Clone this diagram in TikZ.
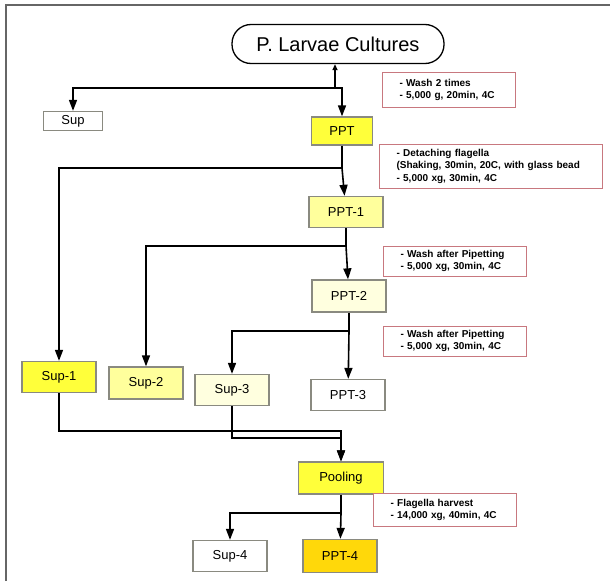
\documentclass[tikz,border=0pt]{standalone}
\usepackage{fontspec}
\setmainfont{Liberation Sans}
\usetikzlibrary{arrows.meta}
\definecolor{yellowA}{HTML}{FFFF3A}
\definecolor{yellowB}{HTML}{FFFF9C}
\definecolor{yellowC}{HTML}{FFFFDF}
\definecolor{goldD}{HTML}{FFD80A}
\definecolor{noteline}{HTML}{C8787F}
\definecolor{boxline}{HTML}{8A8A80}

\begin{document}
\begin{tikzpicture}[x=1pt,y=-1pt,
box/.style={draw=boxline, line width=1.3pt, minimum width=74pt, minimum height=31pt, inner sep=0pt, font=\fontsize{13}{15}\selectfont},
note/.style={draw=noteline, line width=1pt, fill=white, align=left, inner xsep=17pt, inner ysep=0pt, font=\fontsize{10}{12.5}\selectfont\bfseries},
flow/.style={line width=1.6pt, -{Triangle[length=11pt,width=8pt]}},
link/.style={line width=1.6pt}
]
\useasboundingbox (0,0) rectangle (610,581);
% frame
\draw[gray!80!black, line width=2pt] (6,581) -- (6,5) -- (610,5);

\node[draw=black, line width=1.3pt, rounded corners=19pt, minimum width=212pt, minimum height=39pt, font=\fontsize{20}{24}\selectfont] (culture) at (338,44) {P. Larvae Cultures};

\node[box, minimum width=59pt, minimum height=19pt] (sup) at (73,121) {Sup};
\node[box, fill=yellowA, minimum width=61pt, minimum height=28pt] (ppt) at (342,131) {PPT};
\node[box, fill=yellowB] (ppt1) at (346,212) {PPT-1};
\node[box, fill=yellowC, minimum height=32pt] (ppt2) at (349,296) {PPT-2};
\node[box, fill=white] (ppt3) at (348,395) {PPT-3};
\node[box, fill=yellowA] (sup1) at (59,377) {Sup-1};
\node[box, fill=yellowB, minimum height=32pt] (sup2) at (146,383) {Sup-2};
\node[box, fill=yellowC] (sup3) at (232,390) {Sup-3};
\node[box, fill=yellowA, minimum width=85pt, minimum height=32pt] (pool) at (341,478) {Pooling};
\node[box, fill=white] (sup4) at (230,556) {Sup-4};
\node[box, fill=goldD, minimum height=33pt] (ppt4) at (340,556) {PPT-4};

% conditions
\node[note, minimum width=133pt, minimum height=35pt, text width=99pt] (cond1) at (449,90) {- Wash 2 times\\- 5,000 g, 20min, 4C};
\node[note, minimum width=223pt, minimum height=44pt, text width=189pt] (cond2) at (491,166) {- Detaching flagella\\(Shaking, 30min, 20C, with glass bead\\- 5,000 xg, 30min, 4C};
\node[note, minimum width=143pt, minimum height=30pt, text width=109pt] (cond3) at (455,261) {- Wash after Pipetting\\- 5,000 xg, 30min, 4C};
\node[note, minimum width=143pt, minimum height=30pt, text width=109pt] (cond4) at (455,341) {- Wash after Pipetting\\- 5,000 xg, 30min, 4C};
\node[note, minimum width=143pt, minimum height=33pt, text width=109pt] (cond5) at (445,510) {- Flagella harvest\\- 14,000 xg, 40min, 4C};

% branch points
\coordinate (b0) at (335,88);
\coordinate (b1) at (342,168);
\coordinate (b2) at (346,246);
\coordinate (b3) at (349,331);
\coordinate (m1) at (341,431);
\coordinate (m2) at (341,438);
\coordinate (b4) at (341,513);

\draw[link, {Triangle[length=6pt,width=5pt]}-] (culture.south -| b0) -- (b0);
\draw[flow] (b0) -| (sup);
\draw[flow] (b0) -| (ppt);
\draw[link] (ppt) -- (b1);
\draw[flow] (b1) -| (sup1);
\draw[flow] (b1) -- (ppt1);
\draw[link] (ppt1) -- (b2);
\draw[flow] (b2) -| (sup2);
\draw[flow] (b2) -- (ppt2);
\draw[link] (ppt2) -- (b3);
\draw[flow] (b3) -| (sup3);
\draw[flow] (b3) -- (ppt3);
\draw[flow] (sup1) |- (m1) -- (pool);
\draw[flow] (sup3) |- (m2) -- (pool);
\draw[link] (pool) -- (b4);
\draw[flow] (b4) -| (sup4);
\draw[flow] (b4) -- (ppt4);
\end{tikzpicture}
\end{document}
